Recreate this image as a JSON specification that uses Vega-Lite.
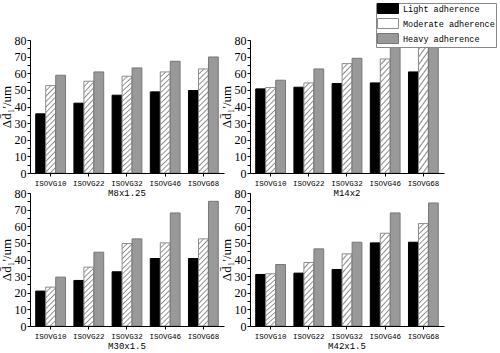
{
  "$schema": "https://vega.github.io/schema/vega-lite/v6.json",
  "padding": {"left": 0, "top": 2, "right": 3, "bottom": 1},
  "background": "white",
  "data": {"values": [
    {"panel": "M8x1.25", "vg": "ISOVG10", "level": "Light adherence", "value": 35.6},
    {"panel": "M8x1.25", "vg": "ISOVG10", "level": "Moderate adherence", "value": 52.6},
    {"panel": "M8x1.25", "vg": "ISOVG10", "level": "Heavy adherence", "value": 58.8},
    {"panel": "M8x1.25", "vg": "ISOVG22", "level": "Light adherence", "value": 42},
    {"panel": "M8x1.25", "vg": "ISOVG22", "level": "Moderate adherence", "value": 55.2},
    {"panel": "M8x1.25", "vg": "ISOVG22", "level": "Heavy adherence", "value": 60.8},
    {"panel": "M8x1.25", "vg": "ISOVG32", "level": "Light adherence", "value": 46.8},
    {"panel": "M8x1.25", "vg": "ISOVG32", "level": "Moderate adherence", "value": 58.2},
    {"panel": "M8x1.25", "vg": "ISOVG32", "level": "Heavy adherence", "value": 63.2},
    {"panel": "M8x1.25", "vg": "ISOVG46", "level": "Light adherence", "value": 48.8},
    {"panel": "M8x1.25", "vg": "ISOVG46", "level": "Moderate adherence", "value": 60.8},
    {"panel": "M8x1.25", "vg": "ISOVG46", "level": "Heavy adherence", "value": 67.2},
    {"panel": "M8x1.25", "vg": "ISOVG68", "level": "Light adherence", "value": 49.6},
    {"panel": "M8x1.25", "vg": "ISOVG68", "level": "Moderate adherence", "value": 62.6},
    {"panel": "M8x1.25", "vg": "ISOVG68", "level": "Heavy adherence", "value": 69.8},
    {"panel": "M14x2", "vg": "ISOVG10", "level": "Light adherence", "value": 50.6},
    {"panel": "M14x2", "vg": "ISOVG10", "level": "Moderate adherence", "value": 51.4},
    {"panel": "M14x2", "vg": "ISOVG10", "level": "Heavy adherence", "value": 55.8},
    {"panel": "M14x2", "vg": "ISOVG22", "level": "Light adherence", "value": 51.6},
    {"panel": "M14x2", "vg": "ISOVG22", "level": "Moderate adherence", "value": 54.2},
    {"panel": "M14x2", "vg": "ISOVG22", "level": "Heavy adherence", "value": 62.6},
    {"panel": "M14x2", "vg": "ISOVG32", "level": "Light adherence", "value": 53.8},
    {"panel": "M14x2", "vg": "ISOVG32", "level": "Moderate adherence", "value": 65.8},
    {"panel": "M14x2", "vg": "ISOVG32", "level": "Heavy adherence", "value": 69},
    {"panel": "M14x2", "vg": "ISOVG46", "level": "Light adherence", "value": 54.2},
    {"panel": "M14x2", "vg": "ISOVG46", "level": "Moderate adherence", "value": 68.6},
    {"panel": "M14x2", "vg": "ISOVG46", "level": "Heavy adherence", "value": 85},
    {"panel": "M14x2", "vg": "ISOVG68", "level": "Light adherence", "value": 60.8},
    {"panel": "M14x2", "vg": "ISOVG68", "level": "Moderate adherence", "value": 88},
    {"panel": "M14x2", "vg": "ISOVG68", "level": "Heavy adherence", "value": 92},
    {"panel": "M30x1.5", "vg": "ISOVG10", "level": "Light adherence", "value": 21},
    {"panel": "M30x1.5", "vg": "ISOVG10", "level": "Moderate adherence", "value": 23.4},
    {"panel": "M30x1.5", "vg": "ISOVG10", "level": "Heavy adherence", "value": 29.4},
    {"panel": "M30x1.5", "vg": "ISOVG22", "level": "Light adherence", "value": 27.4},
    {"panel": "M30x1.5", "vg": "ISOVG22", "level": "Moderate adherence", "value": 35.4},
    {"panel": "M30x1.5", "vg": "ISOVG22", "level": "Heavy adherence", "value": 44.4},
    {"panel": "M30x1.5", "vg": "ISOVG32", "level": "Light adherence", "value": 32.6},
    {"panel": "M30x1.5", "vg": "ISOVG32", "level": "Moderate adherence", "value": 49.6},
    {"panel": "M30x1.5", "vg": "ISOVG32", "level": "Heavy adherence", "value": 52.4},
    {"panel": "M30x1.5", "vg": "ISOVG46", "level": "Light adherence", "value": 40.6},
    {"panel": "M30x1.5", "vg": "ISOVG46", "level": "Moderate adherence", "value": 50},
    {"panel": "M30x1.5", "vg": "ISOVG46", "level": "Heavy adherence", "value": 68},
    {"panel": "M30x1.5", "vg": "ISOVG68", "level": "Light adherence", "value": 40.6},
    {"panel": "M30x1.5", "vg": "ISOVG68", "level": "Moderate adherence", "value": 52.4},
    {"panel": "M30x1.5", "vg": "ISOVG68", "level": "Heavy adherence", "value": 75},
    {"panel": "M42x1.5", "vg": "ISOVG10", "level": "Light adherence", "value": 31},
    {"panel": "M42x1.5", "vg": "ISOVG10", "level": "Moderate adherence", "value": 31.4},
    {"panel": "M42x1.5", "vg": "ISOVG10", "level": "Heavy adherence", "value": 37},
    {"panel": "M42x1.5", "vg": "ISOVG22", "level": "Light adherence", "value": 31.8},
    {"panel": "M42x1.5", "vg": "ISOVG22", "level": "Moderate adherence", "value": 38.2},
    {"panel": "M42x1.5", "vg": "ISOVG22", "level": "Heavy adherence", "value": 46.4},
    {"panel": "M42x1.5", "vg": "ISOVG32", "level": "Light adherence", "value": 34},
    {"panel": "M42x1.5", "vg": "ISOVG32", "level": "Moderate adherence", "value": 43.4},
    {"panel": "M42x1.5", "vg": "ISOVG32", "level": "Heavy adherence", "value": 50.4},
    {"panel": "M42x1.5", "vg": "ISOVG46", "level": "Light adherence", "value": 50},
    {"panel": "M42x1.5", "vg": "ISOVG46", "level": "Moderate adherence", "value": 55.8},
    {"panel": "M42x1.5", "vg": "ISOVG46", "level": "Heavy adherence", "value": 68},
    {"panel": "M42x1.5", "vg": "ISOVG68", "level": "Light adherence", "value": 50.4},
    {"panel": "M42x1.5", "vg": "ISOVG68", "level": "Moderate adherence", "value": 61.6},
    {"panel": "M42x1.5", "vg": "ISOVG68", "level": "Heavy adherence", "value": 74}
  ]},
  "columns": 2,
  "facet": {
    "field": "panel", "type": "nominal",
    "sort": ["M8x1.25", "M14x2", "M30x1.5", "M42x1.5"],
    "header": {"title": null, "labelOrient": "bottom", "labelFont": "Liberation Mono", "labelFontSize": 9, "labelPadding": 2, "labelColor": "black"}
  },
  "spacing": {"row": 20, "column": 26},
  "bounds": "flush",
  "resolve": {"axis": {"x": "independent", "y": "independent"}},
  "spec": {
    "width": 194,
    "height": 133,
    "mark": {"type": "bar", "clip": true, "strokeWidth": 1},
    "encoding": {
      "x": {
        "field": "vg", "type": "nominal",
        "sort": ["ISOVG10", "ISOVG22", "ISOVG32", "ISOVG46", "ISOVG68"],
        "scale": {"paddingInner": 0.22, "paddingOuter": 0.15},
        "axis": {"title": null, "labelFont": "Liberation Mono", "labelFontSize": 7.5, "labelColor": "black", "labelAngle": 0, "tickSize": 3, "labelPadding": 3, "domainColor": "black", "tickColor": "black"}
      },
      "xOffset": {
        "field": "level", "type": "nominal",
        "sort": ["Light adherence", "Moderate adherence", "Heavy adherence"],
        "scale": {"paddingInner": 0.02}
      },
      "y": {
        "field": "value", "type": "quantitative",
        "scale": {"domain": [0, 80], "nice": false},
        "axis": {
          "title": "Δd̄₁′/um", "titleFont": "Liberation Serif", "titleFontSize": 13, "titleFontWeight": "normal", "titleColor": "black", "titlePadding": 1,
          "labelFont": "Liberation Serif", "labelFontSize": 12, "labelColor": "black", "labelPadding": 1, "labelFlush": false, "labelOverlap": false,
          "values": [0, 5, 10, 15, 20, 25, 30, 35, 40, 45, 50, 55, 60, 65, 70, 75, 80],
          "labelExpr": "datum.value % 10 === 0 ? datum.label : ''",
          "tickSize": 3, "grid": false, "domainColor": "black", "tickColor": "black"
        }
      },
      "fill": {
        "field": "level", "type": "nominal",
        "scale": {"domain": ["Light adherence", "Moderate adherence", "Heavy adherence"], "range": ["#000000", "#ffffff", "#999999"]},
        "legend": {
          "orient": "none", "legendX": 346, "legendY": -37, "title": null,
          "symbolType": "M-1,-1.25H4.25V1.25H-1Z", "symbolSize": 64, "symbolStrokeWidth": 1, "symbolStrokeColor": "#808080",
          "labelFont": "Liberation Mono", "labelFontSize": 8.5, "labelColor": "black", "labelOffset": 17, "labelLimit": 0,
          "rowPadding": 0, "padding": 1, "strokeColor": "#888888", "fillColor": "white"
        },
        "condition": [
          {"test": "datum.level === 'Moderate adherence' && datum.value < 30", "value": {"gradient": "linear", "x1": 0, "y1": 0, "x2": 0.302, "y2": 1.179, "stops": [
            {"offset": 0, "color": "#8c8c8c"}, {"offset": 0.0278, "color": "#ffffff"}, {"offset": 0.0833, "color": "#ffffff"},
            {"offset": 0.1111, "color": "#8c8c8c"}, {"offset": 0.1389, "color": "#ffffff"}, {"offset": 0.1944, "color": "#ffffff"},
            {"offset": 0.2222, "color": "#8c8c8c"}, {"offset": 0.25, "color": "#ffffff"}, {"offset": 0.3056, "color": "#ffffff"},
            {"offset": 0.3333, "color": "#8c8c8c"}, {"offset": 0.3611, "color": "#ffffff"}, {"offset": 0.4167, "color": "#ffffff"},
            {"offset": 0.4444, "color": "#8c8c8c"}, {"offset": 0.4722, "color": "#ffffff"}, {"offset": 0.5278, "color": "#ffffff"},
            {"offset": 0.5556, "color": "#8c8c8c"}, {"offset": 0.5833, "color": "#ffffff"}, {"offset": 0.6389, "color": "#ffffff"},
            {"offset": 0.6667, "color": "#8c8c8c"}, {"offset": 0.6944, "color": "#ffffff"}, {"offset": 0.75, "color": "#ffffff"},
            {"offset": 0.7778, "color": "#8c8c8c"}, {"offset": 0.8056, "color": "#ffffff"}, {"offset": 0.8611, "color": "#ffffff"},
            {"offset": 0.8889, "color": "#8c8c8c"}, {"offset": 0.9167, "color": "#ffffff"}, {"offset": 0.9722, "color": "#ffffff"},
            {"offset": 1, "color": "#8c8c8c"}
          ]}},
          {"test": "datum.level === 'Moderate adherence' && datum.value < 45", "value": {"gradient": "linear", "x1": 0, "y1": 0, "x2": 0.182, "y2": 1.132, "stops": [
            {"offset": 0, "color": "#8c8c8c"}, {"offset": 0.0192, "color": "#ffffff"}, {"offset": 0.0577, "color": "#ffffff"},
            {"offset": 0.0769, "color": "#8c8c8c"}, {"offset": 0.0962, "color": "#ffffff"}, {"offset": 0.1346, "color": "#ffffff"},
            {"offset": 0.1538, "color": "#8c8c8c"}, {"offset": 0.1731, "color": "#ffffff"}, {"offset": 0.2115, "color": "#ffffff"},
            {"offset": 0.2308, "color": "#8c8c8c"}, {"offset": 0.25, "color": "#ffffff"}, {"offset": 0.2885, "color": "#ffffff"},
            {"offset": 0.3077, "color": "#8c8c8c"}, {"offset": 0.3269, "color": "#ffffff"}, {"offset": 0.3654, "color": "#ffffff"},
            {"offset": 0.3846, "color": "#8c8c8c"}, {"offset": 0.4038, "color": "#ffffff"}, {"offset": 0.4423, "color": "#ffffff"},
            {"offset": 0.4615, "color": "#8c8c8c"}, {"offset": 0.4808, "color": "#ffffff"}, {"offset": 0.5192, "color": "#ffffff"},
            {"offset": 0.5385, "color": "#8c8c8c"}, {"offset": 0.5577, "color": "#ffffff"}, {"offset": 0.5962, "color": "#ffffff"},
            {"offset": 0.6154, "color": "#8c8c8c"}, {"offset": 0.6346, "color": "#ffffff"}, {"offset": 0.6731, "color": "#ffffff"},
            {"offset": 0.6923, "color": "#8c8c8c"}, {"offset": 0.7115, "color": "#ffffff"}, {"offset": 0.75, "color": "#ffffff"},
            {"offset": 0.7692, "color": "#8c8c8c"}, {"offset": 0.7885, "color": "#ffffff"}, {"offset": 0.8269, "color": "#ffffff"},
            {"offset": 0.8462, "color": "#8c8c8c"}, {"offset": 0.8654, "color": "#ffffff"}, {"offset": 0.9038, "color": "#ffffff"},
            {"offset": 0.9231, "color": "#8c8c8c"}, {"offset": 0.9423, "color": "#ffffff"}, {"offset": 0.9808, "color": "#ffffff"},
            {"offset": 1, "color": "#8c8c8c"}
          ]}},
          {"test": "datum.level === 'Moderate adherence' && datum.value < 58", "value": {"gradient": "linear", "x1": 0, "y1": 0, "x2": 0.127, "y2": 1.1, "stops": [
            {"offset": 0, "color": "#8c8c8c"}, {"offset": 0.0139, "color": "#ffffff"}, {"offset": 0.0417, "color": "#ffffff"},
            {"offset": 0.0556, "color": "#8c8c8c"}, {"offset": 0.0694, "color": "#ffffff"}, {"offset": 0.0972, "color": "#ffffff"},
            {"offset": 0.1111, "color": "#8c8c8c"}, {"offset": 0.125, "color": "#ffffff"}, {"offset": 0.1528, "color": "#ffffff"},
            {"offset": 0.1667, "color": "#8c8c8c"}, {"offset": 0.1806, "color": "#ffffff"}, {"offset": 0.2083, "color": "#ffffff"},
            {"offset": 0.2222, "color": "#8c8c8c"}, {"offset": 0.2361, "color": "#ffffff"}, {"offset": 0.2639, "color": "#ffffff"},
            {"offset": 0.2778, "color": "#8c8c8c"}, {"offset": 0.2917, "color": "#ffffff"}, {"offset": 0.3194, "color": "#ffffff"},
            {"offset": 0.3333, "color": "#8c8c8c"}, {"offset": 0.3472, "color": "#ffffff"}, {"offset": 0.375, "color": "#ffffff"},
            {"offset": 0.3889, "color": "#8c8c8c"}, {"offset": 0.4028, "color": "#ffffff"}, {"offset": 0.4306, "color": "#ffffff"},
            {"offset": 0.4444, "color": "#8c8c8c"}, {"offset": 0.4583, "color": "#ffffff"}, {"offset": 0.4861, "color": "#ffffff"},
            {"offset": 0.5, "color": "#8c8c8c"}, {"offset": 0.5139, "color": "#ffffff"}, {"offset": 0.5417, "color": "#ffffff"},
            {"offset": 0.5556, "color": "#8c8c8c"}, {"offset": 0.5694, "color": "#ffffff"}, {"offset": 0.5972, "color": "#ffffff"},
            {"offset": 0.6111, "color": "#8c8c8c"}, {"offset": 0.625, "color": "#ffffff"}, {"offset": 0.6528, "color": "#ffffff"},
            {"offset": 0.6667, "color": "#8c8c8c"}, {"offset": 0.6806, "color": "#ffffff"}, {"offset": 0.7083, "color": "#ffffff"},
            {"offset": 0.7222, "color": "#8c8c8c"}, {"offset": 0.7361, "color": "#ffffff"}, {"offset": 0.7639, "color": "#ffffff"},
            {"offset": 0.7778, "color": "#8c8c8c"}, {"offset": 0.7917, "color": "#ffffff"}, {"offset": 0.8194, "color": "#ffffff"},
            {"offset": 0.8333, "color": "#8c8c8c"}, {"offset": 0.8472, "color": "#ffffff"}, {"offset": 0.875, "color": "#ffffff"},
            {"offset": 0.8889, "color": "#8c8c8c"}, {"offset": 0.9028, "color": "#ffffff"}, {"offset": 0.9306, "color": "#ffffff"},
            {"offset": 0.9444, "color": "#8c8c8c"}, {"offset": 0.9583, "color": "#ffffff"}, {"offset": 0.9861, "color": "#ffffff"},
            {"offset": 1, "color": "#8c8c8c"}
          ]}},
          {"test": "datum.level === 'Moderate adherence'", "value": {"gradient": "linear", "x1": 0, "y1": 0, "x2": 0.1, "y2": 1.083, "stops": [
            {"offset": 0, "color": "#8c8c8c"}, {"offset": 0.0119, "color": "#ffffff"}, {"offset": 0.0357, "color": "#ffffff"},
            {"offset": 0.0476, "color": "#8c8c8c"}, {"offset": 0.0595, "color": "#ffffff"}, {"offset": 0.0833, "color": "#ffffff"},
            {"offset": 0.0952, "color": "#8c8c8c"}, {"offset": 0.1071, "color": "#ffffff"}, {"offset": 0.131, "color": "#ffffff"},
            {"offset": 0.1429, "color": "#8c8c8c"}, {"offset": 0.1548, "color": "#ffffff"}, {"offset": 0.1786, "color": "#ffffff"},
            {"offset": 0.1905, "color": "#8c8c8c"}, {"offset": 0.2024, "color": "#ffffff"}, {"offset": 0.2262, "color": "#ffffff"},
            {"offset": 0.2381, "color": "#8c8c8c"}, {"offset": 0.25, "color": "#ffffff"}, {"offset": 0.2738, "color": "#ffffff"},
            {"offset": 0.2857, "color": "#8c8c8c"}, {"offset": 0.2976, "color": "#ffffff"}, {"offset": 0.3214, "color": "#ffffff"},
            {"offset": 0.3333, "color": "#8c8c8c"}, {"offset": 0.3452, "color": "#ffffff"}, {"offset": 0.369, "color": "#ffffff"},
            {"offset": 0.381, "color": "#8c8c8c"}, {"offset": 0.3929, "color": "#ffffff"}, {"offset": 0.4167, "color": "#ffffff"},
            {"offset": 0.4286, "color": "#8c8c8c"}, {"offset": 0.4405, "color": "#ffffff"}, {"offset": 0.4643, "color": "#ffffff"},
            {"offset": 0.4762, "color": "#8c8c8c"}, {"offset": 0.4881, "color": "#ffffff"}, {"offset": 0.5119, "color": "#ffffff"},
            {"offset": 0.5238, "color": "#8c8c8c"}, {"offset": 0.5357, "color": "#ffffff"}, {"offset": 0.5595, "color": "#ffffff"},
            {"offset": 0.5714, "color": "#8c8c8c"}, {"offset": 0.5833, "color": "#ffffff"}, {"offset": 0.6071, "color": "#ffffff"},
            {"offset": 0.619, "color": "#8c8c8c"}, {"offset": 0.631, "color": "#ffffff"}, {"offset": 0.6548, "color": "#ffffff"},
            {"offset": 0.6667, "color": "#8c8c8c"}, {"offset": 0.6786, "color": "#ffffff"}, {"offset": 0.7024, "color": "#ffffff"},
            {"offset": 0.7143, "color": "#8c8c8c"}, {"offset": 0.7262, "color": "#ffffff"}, {"offset": 0.75, "color": "#ffffff"},
            {"offset": 0.7619, "color": "#8c8c8c"}, {"offset": 0.7738, "color": "#ffffff"}, {"offset": 0.7976, "color": "#ffffff"},
            {"offset": 0.8095, "color": "#8c8c8c"}, {"offset": 0.8214, "color": "#ffffff"}, {"offset": 0.8452, "color": "#ffffff"},
            {"offset": 0.8571, "color": "#8c8c8c"}, {"offset": 0.869, "color": "#ffffff"}, {"offset": 0.8929, "color": "#ffffff"},
            {"offset": 0.9048, "color": "#8c8c8c"}, {"offset": 0.9167, "color": "#ffffff"}, {"offset": 0.9405, "color": "#ffffff"},
            {"offset": 0.9524, "color": "#8c8c8c"}, {"offset": 0.9643, "color": "#ffffff"}, {"offset": 0.9881, "color": "#ffffff"},
            {"offset": 1, "color": "#8c8c8c"}
          ]}}
        ]
      },
      "stroke": {
        "field": "level", "type": "nominal",
        "scale": {"domain": ["Light adherence", "Moderate adherence", "Heavy adherence"], "range": ["#000000", "#8c8c8c", "#777777"]},
        "legend": null
      }
    }
  },
  "config": {
    "view": {"stroke": null},
    "font": "Liberation Serif"
  }
}
